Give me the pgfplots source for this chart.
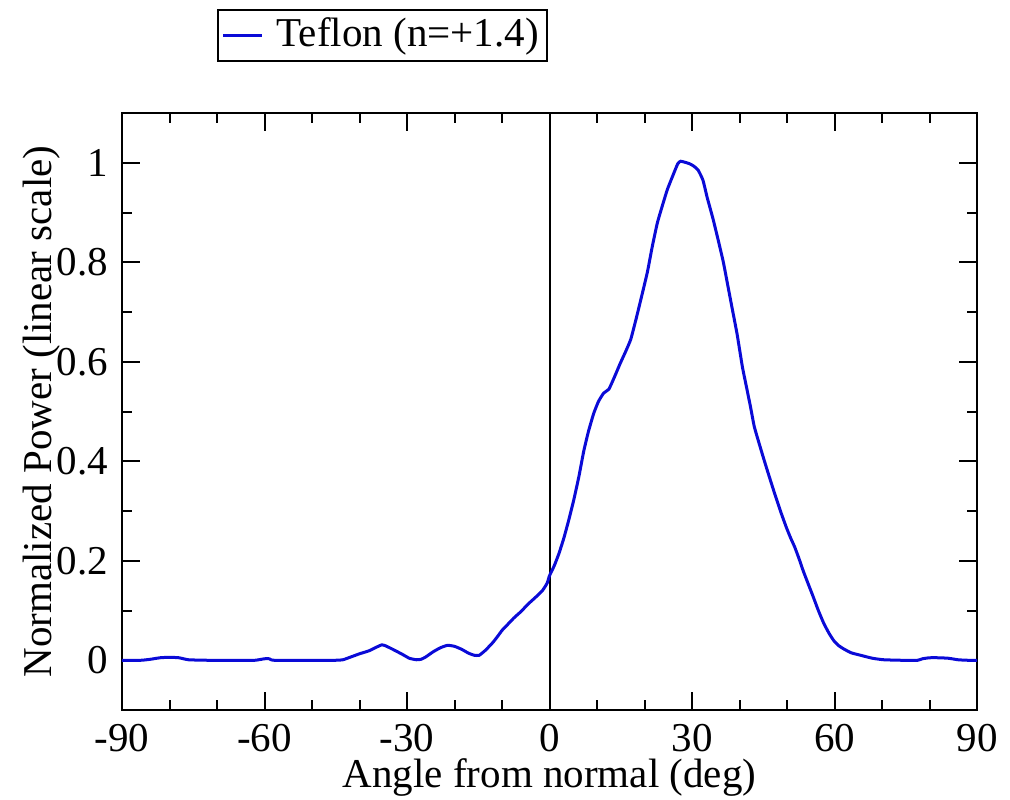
\documentclass[border=0pt]{standalone}
\usepackage{fontspec}
\setmainfont{Liberation Serif}
\usepackage{pgfplots}
\pgfplotsset{compat=1.18}
\definecolor{curveblue}{RGB}{10,10,215}
\begin{document}
\fontsize{20.5pt}{24pt}\selectfont
\begin{tikzpicture}
\begin{axis}[
  at={(0,0)}, anchor=south west,
  scale only axis, width=427.5pt, height=298.5pt,
  xmin=-90, xmax=90, ymin=-0.1, ymax=1.1,
  xtick={-90,-60,-30,0,30,60,90},
  xticklabels={-90,-60,-30,0,30,60,90},
  minor x tick num=2,
  ytick={0,0.2,0.4,0.6,0.8,1},
  yticklabels={0,0.2,0.4,0.6,0.8,1},
  minor y tick num=1,
  tick align=inside,
  major tick length=9pt, minor tick length=5pt,
  tick style={black, line width=1pt},
  axis line style={line width=1.2pt},
  ticklabel style={font=\fontsize{20.5pt}{24pt}\selectfont},
  label style={font=\fontsize{20.5pt}{24pt}\selectfont},
  xlabel={Angle from normal (deg)},
  ylabel={Normalized Power (linear scale)},
  xlabel style={at={(axis description cs:0.5,-0.129)}, anchor=base},
  ylabel style={at={(axis description cs:-0.0819,0.5)}, anchor=base, rotate=0},
  legend style={at={(0.1108,1.1742)}, anchor=north west, draw=black, line width=1pt,
    inner xsep=2pt, inner ysep=2pt, nodes={inner sep=2pt},
    font=\fontsize{20.5pt}{24pt}\selectfont},
  legend cell align=left,
  legend image code/.code={\draw[#1] (0pt,0pt) -- (19.5pt,0pt); \path (24pt,0pt);},
]
\addplot[black, line width=1pt, forget plot] coordinates {(0,-0.1) (0,1.1)};
\addplot[curveblue, line width=1.5pt, smooth, tension=0.3] coordinates {
(-90,0) (-86,0) (-84,0.002) (-82,0.005) (-80,0.006) (-78,0.005) (-76,0.001) (-72,0)
(-66,0) (-62,0) (-60,0.003) (-59,0.003) (-58,0) (-50,0) (-45,0) (-43.5,0.001)
(-42,0.006) (-40,0.013) (-38,0.019) (-36.5,0.026) (-35.3,0.031) (-34.5,0.029)
(-33,0.022) (-31,0.012) (-29.5,0.004) (-28,0.001) (-27,0.002) (-26,0.007)
(-24.5,0.017) (-23,0.025) (-21.5,0.03) (-20,0.028) (-18.5,0.022) (-17,0.014)
(-15.8,0.01) (-14.8,0.01) (-13.5,0.02) (-12,0.035) (-11,0.047) (-10,0.06)
(-9,0.07) (-7.5,0.085) (-6,0.098) (-4.5,0.113) (-3,0.126) (-1.5,0.14)
(-0.5,0.155) (0,0.17) (1,0.19) (2,0.215) (3,0.245) (4,0.28) (5.1,0.322)
(6.2,0.37) (7.2,0.42) (8.2,0.46) (9.3,0.496) (10.3,0.52) (11.4,0.537)
(12.5,0.545) (13.7,0.57) (14.9,0.597) (16,0.62) (17.1,0.645) (18.2,0.685)
(19.2,0.724) (20.6,0.78) (21.6,0.83) (22.7,0.879) (23.8,0.915) (24.8,0.946)
(26,0.975) (27,0.998) (27.6,1.003) (28.5,1.001) (29.5,0.998) (30.4,0.993)
(31.3,0.985) (32.3,0.965) (33.2,0.93) (34.4,0.888) (35.5,0.845) (36.6,0.8)
(37.6,0.75) (38.6,0.70) (39.5,0.655) (40.6,0.59) (41.3,0.557) (42.3,0.51)
(43.1,0.47) (44,0.44) (45,0.408) (46,0.377) (47.6,0.329) (48.8,0.295)
(49.9,0.266) (50.8,0.245) (51.6,0.228) (52.5,0.205) (53.4,0.18) (54.4,0.155)
(55.5,0.128) (56.6,0.1) (57.7,0.075) (58.8,0.055) (59.8,0.04) (60.8,0.03)
(61.9,0.023) (63.5,0.015) (65.5,0.01) (68,0.004) (70.4,0.001) (74,0)
(77.5,0) (78.5,0.003) (80,0.005) (82,0.005) (84,0.004) (86,0.001) (88,0) (90,0)
};
\addlegendentry{Teflon (n=+1.4)}
\end{axis}
\pgfresetboundingbox
\path[use as bounding box] (-61pt,-44.5pt) rectangle (444pt,355pt);
\end{tikzpicture}
\end{document}
